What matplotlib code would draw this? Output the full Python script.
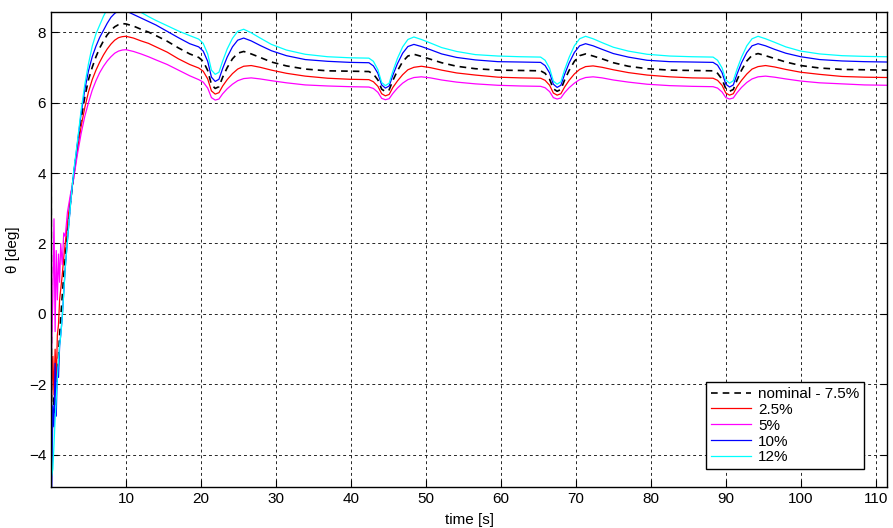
import matplotlib
matplotlib.use("Agg")
import matplotlib.pyplot as plt

plt.rcParams['font.family'] = ['Liberation Sans', 'DejaVu Sans']

# time [s]
t = [0, 0.08, 0.25, 0.4, 0.55, 0.7, 0.85, 1.0, 1.15, 1.3, 1.5, 1.7, 1.9, 2.2, 2.6,
     3.0, 3.5, 4.0, 4.5, 5.0, 5.5, 6.0, 6.5, 7.0, 7.5, 8.0, 8.5, 9.0, 9.5, 10.0,
     11, 12, 13, 14, 15.5, 17, 18.5,
     19.7, 20.3, 20.9, 21.4, 21.9, 22.4, 22.9, 23.5, 24.2, 24.9, 25.7, 26.7, 27.9, 29.4, 31.4, 33.9, 36.9, 39.9,
     42.4, 43.0, 43.6, 44.1, 44.6, 45.1, 45.6, 46.2, 46.9, 47.6, 48.4, 49.4, 50.6, 52.1, 54.1, 56.6, 59.6, 62.6,
     65.3, 65.9, 66.5, 67.0, 67.5, 68.0, 68.5, 69.1, 69.8, 70.5, 71.3, 72.3, 73.5, 75.0, 77.0, 79.5, 82.5, 85.5,
     88.3, 88.9, 89.5, 90.0, 90.5, 91.0, 91.5, 92.1, 92.8, 93.5, 94.3, 95.3, 96.5, 98.0, 100.0, 102.5, 105.5, 108.5,
     111.5]

# theta [deg] for each case
nominal = [7.3, -3.6, -2.9, -2.3, -2.8, -2.1, -1.7, -1.2, -0.6, -0.1, 0.5, 1.1, 1.6, 2.3, 3.2,
           3.9, 4.7, 5.5, 6.15, 6.65, 7.0, 7.3, 7.55, 7.75, 7.92, 8.05, 8.15, 8.21, 8.24, 8.23,
           8.17, 8.08, 8.0, 7.9, 7.74, 7.55, 7.38,
           7.28, 7.17, 6.91, 6.51, 6.4, 6.45, 6.72, 6.99, 7.24, 7.40, 7.45, 7.38, 7.28, 7.15, 7.04, 6.95, 6.90, 6.89,
           6.88, 6.81, 6.64, 6.38, 6.31, 6.36, 6.63, 6.90, 7.16, 7.32, 7.37, 7.31, 7.23, 7.13, 7.03, 6.96, 6.92, 6.91,
           6.90, 6.83, 6.66, 6.39, 6.32, 6.37, 6.64, 6.91, 7.17, 7.33, 7.38, 7.32, 7.24, 7.13, 7.03, 6.96, 6.92, 6.91,
           6.90, 6.83, 6.66, 6.39, 6.32, 6.37, 6.64, 6.92, 7.18, 7.34, 7.39, 7.33, 7.25, 7.15, 7.05, 6.98, 6.94, 6.93,
           6.92]

p2_5 = [7.3, -2.5, -1.2, -2.3, -1.0, -1.9, -0.6, -0.3, 0.4, 0.7, 1.1, 1.6, 2.0, 2.6, 3.3,
        3.85, 4.6, 5.3, 5.85, 6.3, 6.65, 6.92, 7.15, 7.35, 7.52, 7.66, 7.77, 7.84, 7.87, 7.88,
        7.83, 7.75, 7.68, 7.58, 7.43, 7.24, 7.08,
        6.98, 6.89, 6.67, 6.33, 6.24, 6.28, 6.47, 6.65, 6.82, 6.95, 7.03, 7.05, 7.00, 6.92, 6.83, 6.75, 6.69, 6.66,
        6.65, 6.59, 6.46, 6.25, 6.19, 6.23, 6.43, 6.61, 6.79, 6.93, 7.00, 7.03, 6.99, 6.92, 6.84, 6.78, 6.72, 6.70,
        6.69, 6.63, 6.49, 6.27, 6.21, 6.25, 6.44, 6.63, 6.81, 6.94, 7.02, 7.04, 7.00, 6.93, 6.85, 6.78, 6.73, 6.70,
        6.69, 6.63, 6.49, 6.27, 6.21, 6.25, 6.45, 6.63, 6.81, 6.95, 7.02, 7.05, 7.01, 6.94, 6.86, 6.80, 6.74, 6.72,
        6.71]

p5 = [7.3, -1.0, 0.5, 2.7, -0.5, 1.8, 0.4, 1.7, 0.9, 2.0, 1.4, 2.3, 2.2, 2.9, 3.4,
      3.8, 4.5, 5.1, 5.6, 6.0, 6.35, 6.62, 6.85, 7.03, 7.18, 7.3, 7.4, 7.46, 7.49, 7.5,
      7.45, 7.38, 7.3, 7.21, 7.08, 6.92, 6.76,
      6.65, 6.58, 6.41, 6.14, 6.07, 6.10, 6.25, 6.39, 6.52, 6.62, 6.68, 6.70, 6.67, 6.62, 6.56, 6.50, 6.47, 6.45,
      6.44, 6.40, 6.29, 6.12, 6.08, 6.11, 6.26, 6.41, 6.55, 6.65, 6.71, 6.73, 6.70, 6.64, 6.58, 6.53, 6.49, 6.47,
      6.46, 6.42, 6.31, 6.14, 6.10, 6.13, 6.28, 6.42, 6.55, 6.65, 6.71, 6.73, 6.70, 6.64, 6.58, 6.52, 6.48, 6.46,
      6.45, 6.41, 6.30, 6.14, 6.10, 6.13, 6.28, 6.43, 6.57, 6.67, 6.73, 6.75, 6.72, 6.67, 6.61, 6.56, 6.53, 6.50,
      6.49]

p10 = [7.3, -5.3, -2.6, -3.2, -1.4, -2.9, -1.5, -1.8, -0.9, -0.6, -0.1, 0.6, 1.3, 2.1, 3.1,
       3.95, 4.8, 5.65, 6.35, 6.9, 7.3, 7.6, 7.85, 8.05, 8.25, 8.42, 8.53, 8.6, 8.62, 8.6,
       8.5, 8.4, 8.3, 8.2, 8.02, 7.84, 7.67,
       7.58, 7.46, 7.17, 6.72, 6.6, 6.66, 6.97, 7.29, 7.58, 7.77, 7.83, 7.75, 7.62, 7.47, 7.33, 7.22, 7.17, 7.14,
       7.13, 7.04, 6.83, 6.50, 6.41, 6.47, 6.78, 7.10, 7.40, 7.59, 7.65, 7.59, 7.50, 7.38, 7.28, 7.21, 7.16, 7.15,
       7.14, 7.05, 6.84, 6.52, 6.43, 6.49, 6.80, 7.12, 7.42, 7.61, 7.67, 7.61, 7.51, 7.39, 7.29, 7.20, 7.16, 7.15,
       7.14, 7.06, 6.85, 6.52, 6.44, 6.50, 6.81, 7.13, 7.42, 7.61, 7.67, 7.61, 7.51, 7.40, 7.30, 7.22, 7.18, 7.16,
       7.15]

p12 = [7.3, -4.6, -4.4, -3.7, -3.0, -2.4, -1.8, -1.3, -0.9, -0.6, -0.1, 0.6, 1.3, 2.1, 3.1,
       4.0, 4.85, 5.75, 6.5, 7.1, 7.6, 7.95, 8.2, 8.45, 8.65, 8.8, 8.88, 8.92, 8.92, 8.88,
       8.72, 8.56, 8.44, 8.33, 8.18, 8.03, 7.9,
       7.8, 7.68, 7.38, 6.92, 6.8, 6.86, 7.18, 7.52, 7.82, 8.02, 8.08, 7.98, 7.83, 7.65, 7.49, 7.37, 7.30, 7.27,
       7.26, 7.17, 6.93, 6.57, 6.48, 6.55, 6.89, 7.25, 7.58, 7.79, 7.86, 7.79, 7.69, 7.56, 7.45, 7.36, 7.32, 7.30,
       7.29, 7.20, 6.97, 6.61, 6.52, 6.59, 6.93, 7.28, 7.61, 7.81, 7.88, 7.81, 7.70, 7.57, 7.46, 7.37, 7.32, 7.30,
       7.29, 7.20, 6.98, 6.64, 6.55, 6.62, 6.95, 7.29, 7.61, 7.81, 7.88, 7.81, 7.71, 7.58, 7.46, 7.38, 7.33, 7.31,
       7.30]

labels = ["nominal - 7.5%", "2.5%", "5%", "10%", "12%"]
xticks = [10, 20, 30, 40, 50, 60, 70, 80, 90, 100, 110]
yticks = [-4, -2, 0, 2, 4, 6, 8]

fig = plt.figure(figsize=(8.93, 5.28), dpi=100)
ax = fig.add_axes([0.0571, 0.0777, 0.9362, 0.8996])

ax.plot(t, nominal, color='k', lw=1.2, linestyle=(0, (4, 3)), label=labels[0])
ax.plot(t, p2_5, color='#ff0000', lw=0.9, label=labels[1])
ax.plot(t, p5, color='#ff00ff', lw=0.9, label=labels[2])
ax.plot(t, p10, color='#0000ff', lw=0.9, label=labels[3])
ax.plot(t, p12, color='#00ffff', lw=0.9, label=labels[4])

ax.set_xlim(0, 111.5)
ax.set_ylim(-4.91, 8.57)
ax.set_xticks(xticks)
ax.set_yticks(yticks)
ax.grid(True, color='0.15', linestyle=(0, (3, 3)), linewidth=0.7)
ax.tick_params(direction='in', top=True, right=True, length=5, labelsize=11)
for s in ax.spines.values():
    s.set_linewidth(1.0)

ax.set_xlabel("time [s]", fontsize=11, labelpad=5)
ax.set_ylabel("θ [deg]", fontsize=11, labelpad=6)

leg = ax.legend(loc='lower right', bbox_to_anchor=(0.9725, 0.038), borderaxespad=0,
                fontsize=11, frameon=True, fancybox=False, framealpha=1,
                edgecolor='k', handlelength=2.6, handletextpad=0.5,
                labelspacing=0.12, borderpad=0.3)
leg.get_frame().set_linewidth(1.0)

fig.savefig("out.png", dpi=100)
